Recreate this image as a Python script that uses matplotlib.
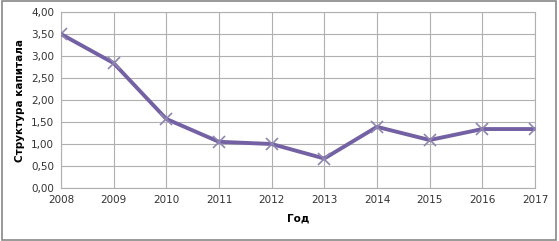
import matplotlib
matplotlib.use("Agg")
import matplotlib.pyplot as plt
from matplotlib.patches import Rectangle

years = [2008, 2009, 2010, 2011, 2012, 2013, 2014, 2015, 2016, 2017]
values = [3.50, 2.84, 1.57, 1.05, 1.00, 0.67, 1.39, 1.09, 1.34, 1.34]
yticks = [0, 0.5, 1.0, 1.5, 2.0, 2.5, 3.0, 3.5, 4.0]

fig = plt.figure(figsize=(5.59, 2.41), dpi=100)
ax = fig.add_axes([0.109, 0.22, 0.848, 0.73])

ax.plot(years, values, color='#7461a3', linewidth=2.8, marker='x',
        markersize=9, markeredgewidth=1.2, markeredgecolor='#8f86b0', zorder=3)

ax.set_xlim(2008, 2017)
ax.set_ylim(0, 4)
ax.set_xticks(years)
ax.set_yticks(yticks)
ax.set_yticklabels([f"{v:.2f}".replace('.', ',') for v in yticks])
ax.grid(True, color='#b0b0b0', linewidth=0.8)
ax.set_axisbelow(True)
for s in ax.spines.values():
    s.set_color('#b0b0b0')
    s.set_linewidth(0.8)
ax.tick_params(length=0, labelsize=7.5, colors='#333333', pad=5)
ax.set_xlabel('Год', fontsize=7.5, fontweight='bold', labelpad=6)
ax.set_ylabel('Структура капитала', fontsize=7.5, fontweight='bold', labelpad=4)

fig.patches.append(Rectangle((0.003, 0.005), 0.992, 0.99, transform=fig.transFigure,
                             fill=False, edgecolor='#888888', linewidth=1.2))

fig.savefig('out.png', dpi=100)
